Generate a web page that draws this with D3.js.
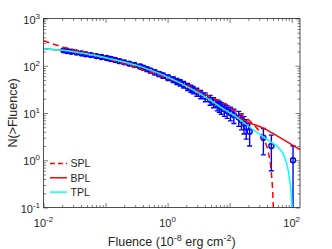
<!DOCTYPE html>
<html>
<head>
<meta charset="utf-8">
<script src="https://cdn.jsdelivr.net/npm/d3@7"></script>
<style>
  body { margin: 0; background: #fff; }
  svg { display: block; font-family: "Liberation Sans", Arial, sans-serif; }
</style>
</head>
<body>
<svg id="chart" width="332" height="249"></svg>
<script>
// cumulative counts N(>F) and the fluence where each is reached
var obsN = [212, 205, 198, 190, 182, 175, 168, 160, 153, 146, 139, 132, 125, 118, 111, 104, 97,
            91, 85, 79, 73, 67, 62, 56, 51, 47, 44, 40, 36, 33, 31, 28, 25, 22, 19, 17, 15,
            14, 13, 12, 11, 10, 9, 8, 7, 6, 5, 4, 3, 2, 1];
var obsF = [0.021, 0.024, 0.028, 0.034, 0.041, 0.048, 0.058, 0.071, 0.086, 0.105, 0.122, 0.143, 0.168, 0.2, 0.241, 0.293, 0.36,
            0.407, 0.465, 0.532, 0.62, 0.728, 0.843, 1.02, 1.23, 1.41, 1.59, 1.81, 2.1, 2.37, 2.57, 2.96, 3.42, 4.04, 4.83, 5.5, 6.3,
            6.8, 7.3, 8.2, 9.1, 10.3, 11.7, 14, 15.5, 17, 18.5, 21, 35, 47, 105];
var obsErr = [14.6, 14.3, 14.1, 13.8, 13.5, 13.2, 13.0, 12.6, 12.4, 12.1, 11.8, 11.5, 11.2, 10.9, 10.5, 10.2, 9.8,
              9.5, 9.2, 8.9, 8.5, 8.2, 7.9, 7.5, 7.1, 6.9, 6.6, 6.3, 6.0, 5.7, 5.6, 5.3, 5.0, 4.7, 4.4, 4.1, 3.9,
              3.7, 3.6, 3.5, 3.3, 3.2, 3.0, 2.8, 2.6, 2.4, 2.2, 2.0, 1.7, 1.4, 1.0];

// fitted models
var splF = [0.01, 0.018, 0.05, 0.118, 0.25, 0.6, 1.2, 2.3, 4.0, 6.2, 9.0, 13.8, 20, 31, 38, 42, 45, 47.6, 49.5, 50.6];
var splN = [339, 262, 190, 135, 100, 68, 50, 36.6, 25, 19.1, 15, 10, 7.2, 3.8, 2.3, 1.5, 0.9, 0.45, 0.2, 0.1];
var bplF = [0.01, 0.021, 0.105, 0.36, 1.23, 2.57, 4.83, 7, 11.3, 21.3, 34.9, 60, 136];
var bplN = [230, 212, 146, 97, 51, 31, 19, 13.5, 9.2, 6.1, 4.8, 3.2, 1.67];
var tplF = [0.01, 0.021, 0.105, 0.36, 1.23, 2.57, 4.83, 7, 11.3, 24.1, 44.8, 60, 72, 80, 88, 95, 99, 101.5];
var tplN = [230, 212, 146, 97, 51, 31, 19, 13.5, 9.2, 4.4, 2.5, 1.9, 1.4, 1.0, 0.6, 0.3, 0.16, 0.1];

var legendNames = ["SPL", "BPL", "TPL"];
var legendColors = ["#ff0000", "#ff0000", "#00ffff"];
var legendDash = ["5,3", null, null];

var xMajor = [1e-2, 1e-1, 1e0, 1e1, 1e2];
var xLabelled = [-2, 0, 2];
var yLabelled = [-1, 0, 1, 2, 3];

var box = {left: 43.5, right: 300, top: 18.5, bottom: 207.5};
var ink = "#262626";

var svg = d3.select("#chart");

var x = d3.scaleLog().domain([0.01, 136]).range([box.left, box.right]);
var y = d3.scaleLog().domain([0.1, 1000]).range([box.bottom, box.top]);

function minors(lo, hi) {
    var out = [];
    for (var e = Math.floor(Math.log10(lo)); e <= Math.ceil(Math.log10(hi)); e++)
        for (var k = 2; k <= 9; k++) {
            var v = k * Math.pow(10, e);
            if (v > lo && v < hi) out.push(v);
        }
    return out;
}

svg.append("defs").append("clipPath").attr("id", "clip")
   .append("rect")
   .attr("x", box.left).attr("y", box.top)
   .attr("width", box.right - box.left).attr("height", box.bottom - box.top);

// ticks, inward on all four sides
function tickSet(axis, vals, size, transform) {
    svg.append("g")
       .attr("transform", transform)
       .call(axis.tickValues(vals).tickSize(size).tickFormat(""))
       .call(function(g) { g.select(".domain").remove(); })
       .selectAll("line").attr("stroke", ink).attr("stroke-width", 0.6);
}
var yMajor = [0.1, 1, 10, 100, 1000];
tickSet(d3.axisBottom(x), minors(0.01, 136), -2.5, "translate(0," + box.bottom + ")");
tickSet(d3.axisBottom(x), xMajor, -4.5, "translate(0," + box.bottom + ")");
tickSet(d3.axisTop(x), minors(0.01, 136), -2.5, "translate(0," + box.top + ")");
tickSet(d3.axisTop(x), xMajor, -4.5, "translate(0," + box.top + ")");
tickSet(d3.axisLeft(y), minors(0.1, 1000), -2.5, "translate(" + box.left + ",0)");
tickSet(d3.axisLeft(y), yMajor, -4.5, "translate(" + box.left + ",0)");
tickSet(d3.axisRight(y), minors(0.1, 1000), -2.5, "translate(" + box.right + ",0)");
tickSet(d3.axisRight(y), yMajor, -4.5, "translate(" + box.right + ",0)");

// data with error bars
var pts = obsN.map(function(n, i) { return {f: obsF[i], n: n, e: obsErr[i]}; });
var plot = svg.append("g").attr("clip-path", "url(#clip)");
var blue = "#0000ff";

function lo(d) { var v = d.n - d.e; return v > 0.1 ? y(v) : box.bottom + 5; }

plot.selectAll(".eb").data(pts).enter().append("line")
    .attr("x1", function(d) { return x(d.f); }).attr("x2", function(d) { return x(d.f); })
    .attr("y1", function(d) { return y(d.n + d.e); }).attr("y2", lo)
    .attr("stroke", blue).attr("stroke-width", 1.4);
plot.selectAll(".capt").data(pts).enter().append("line")
    .attr("x1", function(d) { return x(d.f) - 2.5; }).attr("x2", function(d) { return x(d.f) + 2.5; })
    .attr("y1", function(d) { return y(d.n + d.e); }).attr("y2", function(d) { return y(d.n + d.e); })
    .attr("stroke", blue).attr("stroke-width", 1.4);
plot.selectAll(".capb").data(pts).enter().append("line")
    .attr("x1", function(d) { return x(d.f) - 2.5; }).attr("x2", function(d) { return x(d.f) + 2.5; })
    .attr("y1", lo).attr("y2", lo)
    .attr("stroke", blue).attr("stroke-width", 1.4);
plot.selectAll(".pt").data(pts).enter().append("circle")
    .attr("cx", function(d) { return x(d.f); }).attr("cy", function(d) { return y(d.n); })
    .attr("r", 2.5).attr("fill", "none").attr("stroke", blue).attr("stroke-width", 1.4);

// model curves (cyan last, on top)
function curve(fs, ns, color, dash) {
    var line = d3.line()
        .x(function(d) { return x(d[0]); })
        .y(function(d) { return y(d[1]); })
        .curve(d3.curveMonotoneX);
    plot.append("path")
        .datum(fs.map(function(f, i) { return [f, ns[i]]; }))
        .attr("d", line)
        .attr("fill", "none")
        .attr("stroke", color)
        .attr("stroke-width", 1.5)
        .attr("stroke-dasharray", dash);
}
curve(bplF, bplN, "#ff0000", null);
curve(splF, splN, "#ff0000", "6,4");
curve(tplF, tplN, "#00ffff", null);

// box
svg.append("rect")
   .attr("x", box.left).attr("y", box.top)
   .attr("width", box.right - box.left).attr("height", box.bottom - box.top)
   .attr("fill", "none").attr("stroke", ink).attr("stroke-width", 0.8);

// tick labels with exponents
function powLabel(px, py, exp, anchor) {
    var t = svg.append("text")
        .attr("x", px).attr("y", py)
        .attr("text-anchor", anchor)
        .attr("fill", ink)
        .attr("font-size", 11);
    t.append("tspan").text("10");
    t.append("tspan").attr("dy", -5).attr("font-size", 8).text(exp);
}
xLabelled.forEach(function(e) { powLabel(x(Math.pow(10, e)), 226.5, e, "middle"); });
yLabelled.forEach(function(e) { powLabel(40, y(Math.pow(10, e)) + 5, e, "end"); });

// axis titles
var xt = svg.append("text")
    .attr("x", (box.left + box.right) / 2).attr("y", 246)
    .attr("text-anchor", "middle").attr("fill", ink).attr("font-size", 12.5);
xt.append("tspan").text("Fluence (10");
xt.append("tspan").attr("dy", -5).attr("font-size", 9).text("-8");
xt.append("tspan").attr("dy", 5).text(" erg cm");
xt.append("tspan").attr("dy", -5).attr("font-size", 9).text("-2");
xt.append("tspan").attr("dy", 5).text(")");

svg.append("text")
   .attr("transform", "translate(16.5," + ((box.top + box.bottom) / 2) + ") rotate(-90)")
   .attr("text-anchor", "middle").attr("fill", ink).attr("font-size", 12.5)
   .text("N(>Fluence)");

// legend
var leg = svg.append("g").attr("transform", "translate(50,163.5)");
legendNames.forEach(function(name, i) {
    var g = leg.append("g").attr("transform", "translate(0," + (i * 14.3) + ")");
    g.append("line").attr("x1", 0).attr("x2", 17).attr("y1", 0).attr("y2", 0)
     .attr("stroke", legendColors[i]).attr("stroke-width", 1.5)
     .attr("stroke-dasharray", legendDash[i]);
    g.append("text").attr("x", 20.5).attr("y", 3.7).attr("fill", ink).attr("font-size", 10.5).text(name);
});
</script>
</body>
</html>
